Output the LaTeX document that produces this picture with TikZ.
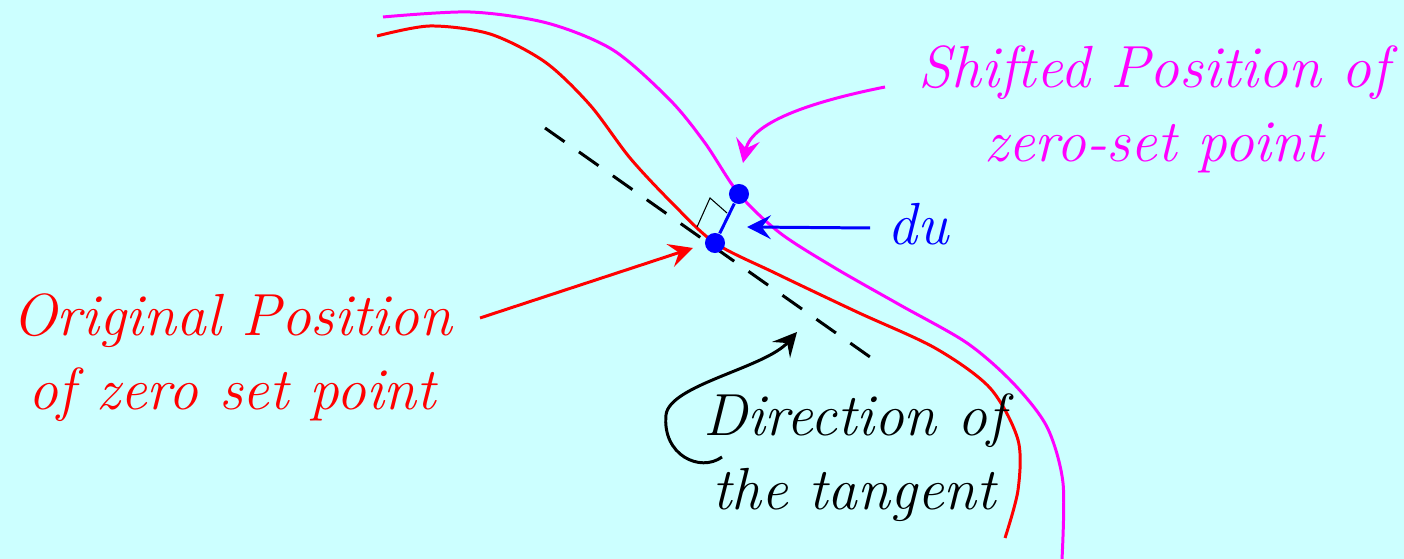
\documentclass[tikz,border=0pt]{standalone}
\usepackage{fontspec}
\usetikzlibrary{arrows.meta}
\definecolor{bgc}{RGB}{204,255,255}
\definecolor{mag}{RGB}{255,0,255}
\definecolor{rd}{RGB}{255,0,0}
\definecolor{bl}{RGB}{0,0,255}
\begin{document}
\begin{tikzpicture}[x=0.01cm,y=-0.01cm,
  curve/.style={line width=0.85pt},
  lbl/.style={font=\fontsize{16.9}{21.3}\selectfont\itshape, inner sep=0pt, align=center, anchor=base},
  tip/.style={-{Stealth[length=6.8pt,width=6.8pt,inset=2.6pt]}, line width=0.85pt},
  dot/.style={circle, fill=bl, inner sep=0pt, minimum size=5.7pt}
]
\fill[bgc] (0,0) rectangle (1404,559);
\useasboundingbox (0,0) rectangle (1404,559);

% curves
\draw[curve, mag] plot[smooth] coordinates {(383,17) (470,12) (547,23) (613,50) (670,100) (705,143) (739,194) (780,233) (835,268) (900,305) (967,343) (1013,383) (1047,427) (1063,483) (1062,559)};
\draw[curve, rd] plot[smooth] coordinates {(377,36) (430,26) (490,34) (545,62) (590,105) (630,158) (672,203) (715,243) (775,273) (857,312) (935,348) (990,388) (1018,440) (1018,490) (1005,538)};

% tangent
\coordinate (t0) at (545,128);
\coordinate (t1) at (870,357);
\draw[curve, dash pattern=on 6.8pt off 5pt] (t0) -- (t1);

% right angle mark
\draw[line width=0.3pt] (697,227) -- (710,198) -- (727,213);

% points
\node[dot] (p0) at (715,243) {};
\node[dot] (p1) at (739,194) {};
\draw[curve, bl] (p0) -- (p1);

% labels
\node[lbl, text=mag] (shift) at (1154,162) {Shifted Position of\\zero-set point};
\node[lbl, text=rd] (orig) at (232,410) {Original Position\\of zero set point};
\node[lbl, text=black] (dir) at (854,510) {Direction of\\the tangent};
\node[lbl, text=bl] (du) at (918,245) {du};

% arrows
\coordinate (ma) at (885,87);
\coordinate (mb) at (743,163);
\draw[tip, mag] (ma) .. controls (820,100) and (752,120) .. (mb);
\coordinate (ba) at (870,228);
\coordinate (bb) at (747,227);
\draw[tip, bl] (ba) -- (bb);
\coordinate (ra) at (480,318);
\coordinate (rb) at (693,248);
\draw[tip, rd] (ra) -- (rb);
\coordinate (ka) at (722,457);
\coordinate (kb) at (797,332);
\draw[tip, black] (ka) .. controls (700,473) and (662,455) .. (666,415) .. controls (669,385) and (765,368) .. (kb);
\end{tikzpicture}
\end{document}
